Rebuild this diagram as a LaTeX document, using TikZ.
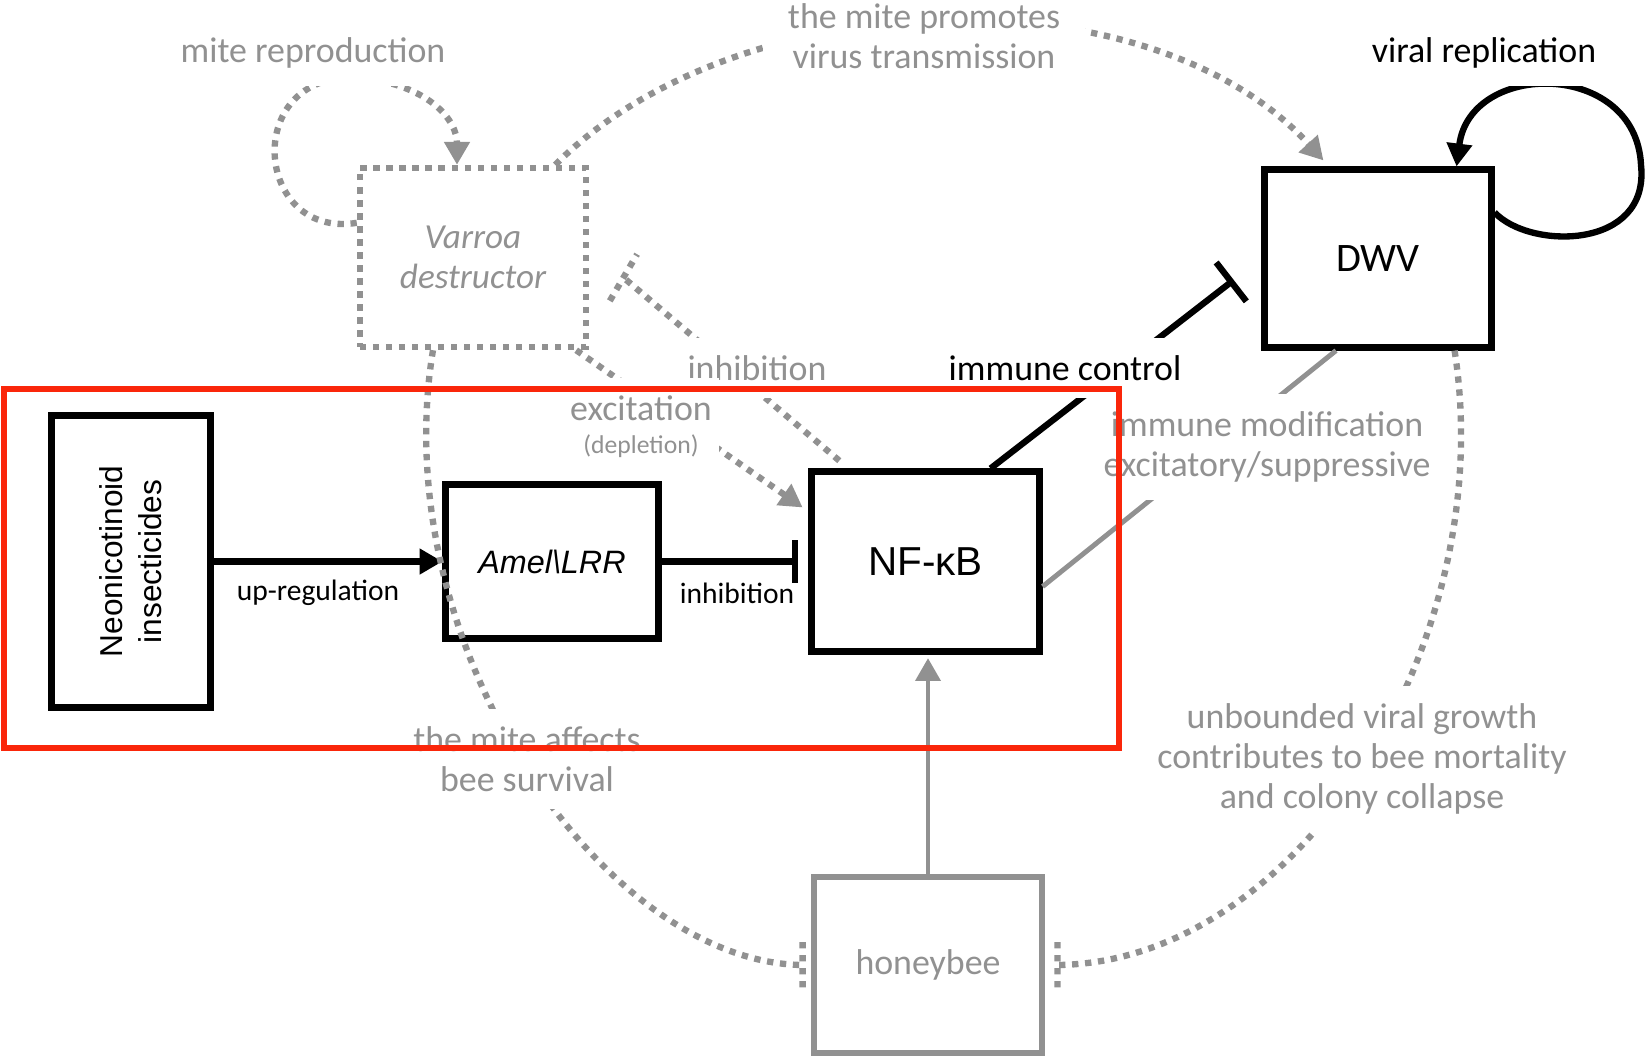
\documentclass[tikz,border=0pt]{standalone}
\usepackage{fontspec}
\setmainfont{Carlito}
\newfontfamily\arialfont{Liberation Sans}
\usetikzlibrary{arrows.meta,calc}
\definecolor{mitegray}{RGB}{145,145,145}
\definecolor{boxred}{RGB}{250,38,10}

\begin{document}
\begin{tikzpicture}[x=0.01cm,y=-0.01cm,
    box/.style={draw,line width=2pt,inner sep=0pt},
    mitebox/.style={draw=mitegray,line width=1.8pt,dash pattern=on 1.8pt off 1.9pt,inner sep=0pt,text=mitegray},
    beebox/.style={draw=mitegray,line width=1.9pt,inner sep=0pt,text=mitegray},
    blackline/.style={line width=1.8pt},
    grayline/.style={draw=mitegray,line width=1.4pt},
    miteline/.style={draw=mitegray,line width=1.8pt,dash pattern=on 1.8pt off 1.9pt},
    act/.style={-{Triangle[length=6.5pt,width=7pt]}},
    inh/.style={-{Bar[width=#1]}},
    lbl/.style={font=\fontsize{10.2}{11.4}\selectfont,align=center,fill=white,text=mitegray,inner xsep=2pt,inner ysep=5pt},
    blbl/.style={font=\fontsize{8.4}{10}\selectfont}]
  \useasboundingbox (0,0) rectangle (1649,1056);

  \node[box,rotate=90,minimum width=2.91cm,minimum height=1.58cm,align=center,font=\arialfont\fontsize{9}{11}\selectfont] (neo) at (131,561.5) {Neonicotinoid\\insecticides};
  \node[box,minimum width=2.12cm,minimum height=1.53cm,font=\arialfont\itshape\fontsize{9.2}{11}\selectfont] (amel) at (552,561.5) {Amel\textbackslash LRR};
  \node[box,minimum width=2.27cm,minimum height=1.79cm,font=\arialfont\fontsize{11.5}{13}\selectfont] (nfkb) at (925.5,561.5) {NF-κB};
  \node[box,minimum width=2.26cm,minimum height=1.77cm,font=\fontsize{11.5}{13}\selectfont] (dwv) at (1378,258.5) {DWV};
  \node[mitebox,minimum width=2.26cm,minimum height=1.79cm,align=center,font=\itshape\fontsize{10}{11.4}\selectfont] (varroa) at (473,257.5) {Varroa\\destructor};
  \node[beebox,minimum width=2.28cm,minimum height=1.76cm,font=\fontsize{10.2}{12}\selectfont] (bee) at (928,965) {honeybee};

  \draw[blackline,act] (neo) -- (amel);
  \draw[blackline,inh=12pt,shorten >=3pt] (amel) -- (nfkb);
  \draw[blackline,inh=14pt,shorten >=0.35cm] ([xshift=-0.52cm]nfkb.north east) -- (dwv.west);
  \draw[grayline] ([yshift=-0.25cm]nfkb.east) -- ([xshift=-0.42cm]dwv.south);
  \draw[grayline,act,shorten >=1pt] (bee.north) -- (bee.north |- nfkb.south);
  \draw[blackline,act] ([yshift=-0.46cm]dwv.north east) .. controls (1530,250) and (1650,250) .. (1641,165)
    .. controls (1636,60) and (1470,60) .. ([xshift=-0.38cm]dwv.north east);

  \draw[miteline,act] ([yshift=-0.58cm]varroa.north west) .. controls (250,240) and (240,60) .. (370,79)
    .. controls (430,88) and (457,120) .. ([xshift=-0.16cm]varroa.north);
  \draw[miteline,act] ([xshift=-0.34cm]varroa.north east) .. controls (740,-20) and (1150,-30) .. ([xshift=0.62cm,yshift=0.06cm]dwv.north west);
  \draw[miteline,shorten <=0.12cm] ([xshift=0.4cm]nfkb.north west) -- ($([xshift=0.4cm]nfkb.north west)!0.868!([yshift=0.09cm]varroa.east)$) coordinate (vtee);
  \draw[miteline] ($(vtee)!0.27cm!90:(varroa.east)$) -- ($(vtee)!0.27cm!-90:(varroa.east)$);
  \draw[miteline,act,shorten >=2pt] ([xshift=-0.13cm]varroa.south east) -- ([yshift=-0.43cm]nfkb.north west);
  \draw[miteline] ([xshift=-0.4cm]varroa.south) .. controls (385,640) and (600,962) .. ([xshift=-0.08cm]bee.west)
    ++(0,-23) -- ++(0,46);
  \draw[miteline] ([xshift=-0.4cm]dwv.south east) .. controls (1500,640) and (1300,962) .. ([xshift=0.12cm]bee.east)
    ++(0,-23) -- ++(0,46);

  \node[lbl] (reprolbl) at (313,53) {mite reproduction};
  \node[lbl,inner xsep=7pt] (promlbl) at (924,36) {the mite promotes\\virus transmission};
  \node[lbl,text=black] (replbl) at (1484,53) {viral replication};
  \node[lbl] (inhlbl) at (757,368) {inhibition};
  \node[lbl,text=black] (immlbl) at (1065,368) {immune control};
  \node[lbl] (exclbl) at (641,427) {excitation\\[-2pt]{\fontsize{7.3}{8.8}\selectfont (depletion)}};
  \node[lbl] (modlbl) at (1267,447) {immune modification\\excitatory/suppressive};
  \node[lbl] (affectlbl) at (527,759) {the mite affects\\bee survival};
  \node[lbl] (growthlbl) at (1362,759) {unbounded viral growth\\contributes to bee mortality\\and colony collapse};
  \node[blbl] (uplbl) at (318,593) {up-regulation};
  \node[blbl] (inhiblbl) at (737,593) {inhibition};

  \draw[boxred,line width=1.5pt] (4,389) rectangle (1119,748);
\end{tikzpicture}
\end{document}
